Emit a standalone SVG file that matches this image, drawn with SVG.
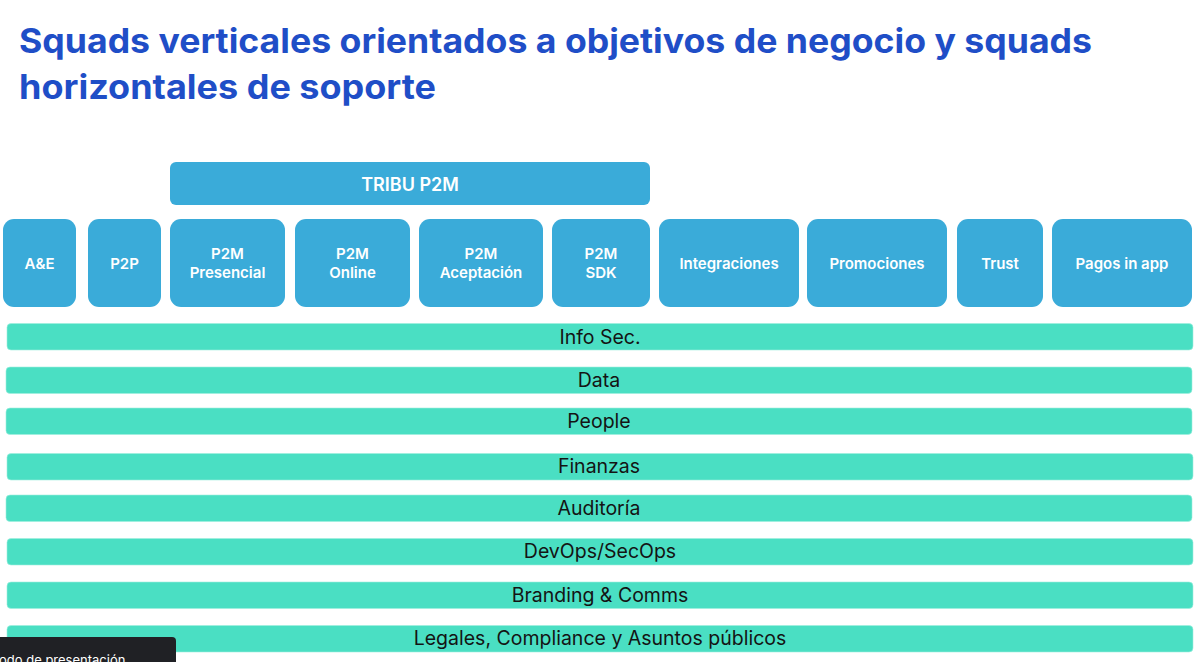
<svg xmlns="http://www.w3.org/2000/svg" width="1200" height="662" viewBox="0 0 1200 662">
<style>
.title{font-family:"Inter","Liberation Sans",sans-serif;font-weight:700;font-size:34px;fill:#1f4ec7}
.sq{fill:#3aabd9}
.sqt{font-family:"Inter","Liberation Sans",sans-serif;font-weight:600;font-size:15px;fill:#ffffff;text-anchor:middle}
.tt{font-family:"Inter","Liberation Sans",sans-serif;font-weight:600;font-size:18px;fill:#ffffff;text-anchor:middle}
.bar{fill:#4adfc3;stroke:#9eeedd;stroke-width:0.6}
.bt{font-family:"Inter","Liberation Sans",sans-serif;font-size:19.5px;fill:#141414;text-anchor:middle}
</style>
<rect width="1200" height="662" fill="#ffffff"/>
<g id="title">
<text class="title" x="19" y="53" textLength="1073" lengthAdjust="spacingAndGlyphs">Squads verticales orientados a objetivos de negocio y squads</text>
<text class="title" x="19" y="99" textLength="417" lengthAdjust="spacingAndGlyphs">horizontales de soporte</text>
</g>
<g id="tribu">
<rect class="sq" x="170" y="162" width="480" height="43" rx="6"/>
<text class="tt" x="410" y="191">TRIBU P2M</text>
</g>
<g id="ae"><rect class="sq" x="3" y="219" width="73" height="88" rx="11"/><text class="sqt" x="39.5" y="269">A&amp;E</text></g>
<g id="p2p"><rect class="sq" x="88" y="219" width="73" height="88" rx="11"/><text class="sqt" x="124.5" y="269">P2P</text></g>
<g id="p2m-presencial"><rect class="sq" x="170" y="219" width="115" height="88" rx="11"/><text class="sqt" x="227.5" y="259">P2M</text><text class="sqt" x="227.5" y="278">Presencial</text></g>
<g id="p2m-online"><rect class="sq" x="295" y="219" width="115" height="88" rx="11"/><text class="sqt" x="352.5" y="259">P2M</text><text class="sqt" x="352.5" y="278">Online</text></g>
<g id="p2m-aceptacion"><rect class="sq" x="419" y="219" width="124" height="88" rx="11"/><text class="sqt" x="481" y="259">P2M</text><text class="sqt" x="481" y="278">Aceptación</text></g>
<g id="p2m-sdk"><rect class="sq" x="552" y="219" width="98" height="88" rx="11"/><text class="sqt" x="601" y="259">P2M</text><text class="sqt" x="601" y="278">SDK</text></g>
<g id="integraciones"><rect class="sq" x="659" y="219" width="140" height="88" rx="11"/><text class="sqt" x="729" y="269">Integraciones</text></g>
<g id="promociones"><rect class="sq" x="807" y="219" width="140" height="88" rx="11"/><text class="sqt" x="877" y="269">Promociones</text></g>
<g id="trust"><rect class="sq" x="957" y="219" width="86" height="88" rx="11"/><text class="sqt" x="1000" y="269">Trust</text></g>
<g id="pagos-in-app"><rect class="sq" x="1052" y="219" width="140" height="88" rx="11"/><text class="sqt" x="1122" y="269">Pagos in app</text></g>
<g id="infosec"><rect class="bar" x="7" y="323.5" width="1186" height="26.5" rx="4"/><text class="bt" x="600" y="344">Info Sec.</text></g>
<g id="data"><rect class="bar" x="6" y="367" width="1186" height="26.5" rx="4"/><text class="bt" x="599" y="387">Data</text></g>
<g id="people"><rect class="bar" x="6" y="408" width="1186" height="26.5" rx="4"/><text class="bt" x="599" y="428">People</text></g>
<g id="finanzas"><rect class="bar" x="7" y="453.5" width="1186" height="26.5" rx="4"/><text class="bt" x="599" y="473">Finanzas</text></g>
<g id="auditoria"><rect class="bar" x="6" y="495" width="1186" height="26.5" rx="4"/><text class="bt" x="599" y="515">Auditoría</text></g>
<g id="devops"><rect class="bar" x="7" y="538.5" width="1186" height="26.5" rx="4"/><text class="bt" x="600" y="558">DevOps/SecOps</text></g>
<g id="branding"><rect class="bar" x="7" y="582" width="1186" height="26.5" rx="4"/><text class="bt" x="600" y="602">Branding &amp; Comms</text></g>
<g id="legales"><rect class="bar" x="7" y="625.5" width="1186" height="26.5" rx="4"/><text class="bt" x="600" y="645">Legales, Compliance y Asuntos públicos</text></g>
<g id="tooltip">
<rect x="-10" y="637" width="186" height="40" rx="4" fill="#202125"/>
<text x="-1" y="665" font-family="Inter,'Liberation Sans',sans-serif" font-size="13" fill="#ffffff">odo de presentación</text>
</g>
</svg>
